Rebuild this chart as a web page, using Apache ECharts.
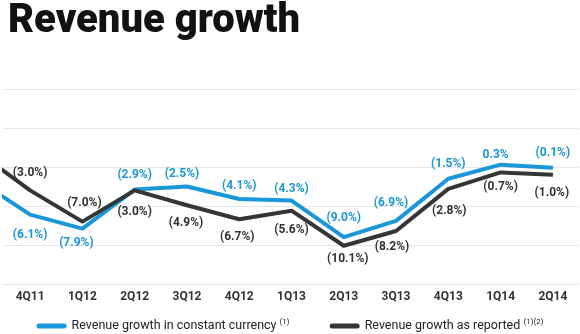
<!DOCTYPE html>
<html>
<head>
<meta charset="utf-8">
<script src="https://cdn.jsdelivr.net/npm/echarts@6/dist/echarts.min.js"></script>
<style>
  html, body { margin: 0; padding: 0; background: #fff; }
  #chart { width: 580px; height: 334px; }
</style>
</head>
<body>
<div id="chart"></div>
<script>
// ---- data ----
const categories = ['4Q11', '1Q12', '2Q12', '3Q12', '4Q12', '1Q13', '2Q13', '3Q13', '4Q13', '1Q14', '2Q14'];
const constantCurrency = [-6.1, -7.9, -2.9, -2.5, -4.1, -4.3, -9.0, -6.9, -1.5, 0.3, -0.1];
const asReported = [-3.0, -7.0, -3.0, -4.9, -6.7, -5.6, -10.1, -8.2, -2.8, -0.7, -1.0];
// prior quarter (3Q11), only visible as the clipped lead-in segment at the left edge
const leadInConstant = -1.7;
const leadInReported = 1.9;
const yTicks = [-15, -10, -5, 0, 5, 10];
const seriesNames = ['Revenue growth in constant currency', 'Revenue growth as reported'];
const seriesNotes = ['(1)', '(1)(2)'];

// ---- label placement (style only) ----
const blueLabelOffsets = [[0, 20], [-6, 14], [0, -15], [-5, -13], [0, -13], [0, -12], [0, -19], [-5, -18], [0, -15], [-5, -10], [0, -15]];
const blackLabelOffsets = [[0, -17], [2, -19], [0, 22], [-1, 18], [-2, 18], [0, 19], [4, 13], [-4, 16], [1, 22], [0, 15], [-1, 18]];

const BLUE = '#1a97d8';
const DARK = '#353535';
const FONT = 'Roboto, "Open Sans", sans-serif';

function fmt(v) {
  return v < 0 ? '(' + Math.abs(v).toFixed(1) + '%)' : v.toFixed(1) + '%';
}

function buildData(lead, values, offsets, color) {
  const out = [{ value: [-1, lead], label: { show: false } }];
  values.forEach((v, i) => {
    out.push({
      value: [i, v],
      label: {
        show: true,
        position: 'inside',
        offset: offsets[i],
        formatter: fmt(v),
        color: color,
        fontFamily: FONT,
        fontWeight: 'bold',
        fontSize: 12
      }
    });
  });
  return out;
}

const chart = echarts.init(document.getElementById('chart'), null, { renderer: 'canvas' });

const option = {
  animation: false,
  backgroundColor: '#fff',
  title: {
    text: 'Revenue growth',
    left: 3,
    top: -3,
    textStyle: {
      fontFamily: FONT,
      fontWeight: 900,
      fontSize: 40,
      color: '#111'
    }
  },
  legend: {
    top: 313,
    left: 'center',
    itemGap: 40,
    itemWidth: 30,
    itemHeight: 5,
    icon: 'path://M2.5,0h25a2.5,2.5,0,0,1,0,5h-25a2.5,2.5,0,0,1,0-5z',
    data: seriesNames,
    formatter: function (name) {
      const idx = seriesNames.indexOf(name);
      return name + ' {sup|' + seriesNotes[idx] + '}';
    },
    textStyle: {
      fontFamily: FONT,
      fontSize: 12.5,
      color: '#222',
      lineHeight: 16,
      rich: {
        sup: {
          fontFamily: FONT,
          fontSize: 8,
          lineHeight: 8,
          color: '#222',
          verticalAlign: 'top'
        }
      }
    }
  },
  grid: { left: 4, right: 1, top: 89, bottom: 50 },
  xAxis: [
    {
      type: 'category',
      data: categories,
      boundaryGap: true,
      axisLine: { show: false },
      axisTick: { show: false },
      axisLabel: {
        margin: 7,
        color: '#333',
        fontFamily: FONT,
        fontWeight: 'bold',
        fontSize: 12
      },
      splitLine: { show: false }
    },
    {
      type: 'value',
      min: -0.5,
      max: categories.length - 0.5,
      show: false
    }
  ],
  yAxis: {
    type: 'value',
    min: yTicks[0],
    max: yTicks[yTicks.length - 1],
    interval: yTicks[1] - yTicks[0],
    axisLine: { show: false },
    axisTick: { show: false },
    axisLabel: { show: false },
    splitLine: { show: true, lineStyle: { color: '#e6e6e6', width: 1 } }
  },
  series: [
    {
      name: seriesNames[0],
      type: 'line',
      xAxisIndex: 1,
      clip: true,
      symbol: 'circle',
      symbolSize: 1,
      showSymbol: true,
      color: BLUE,
      itemStyle: { color: BLUE },
      lineStyle: { color: BLUE, width: 4, join: 'round', cap: 'butt' },
      data: buildData(leadInConstant, constantCurrency, blueLabelOffsets, BLUE),
      z: 2
    },
    {
      name: seriesNames[1],
      type: 'line',
      xAxisIndex: 1,
      clip: true,
      symbol: 'circle',
      symbolSize: 1,
      showSymbol: true,
      color: DARK,
      itemStyle: { color: DARK },
      lineStyle: { color: DARK, width: 4, join: 'round', cap: 'butt' },
      data: buildData(leadInReported, asReported, blackLabelOffsets, '#333'),
      z: 3
    }
  ]
};

chart.setOption(option);
</script>
</body>
</html>
